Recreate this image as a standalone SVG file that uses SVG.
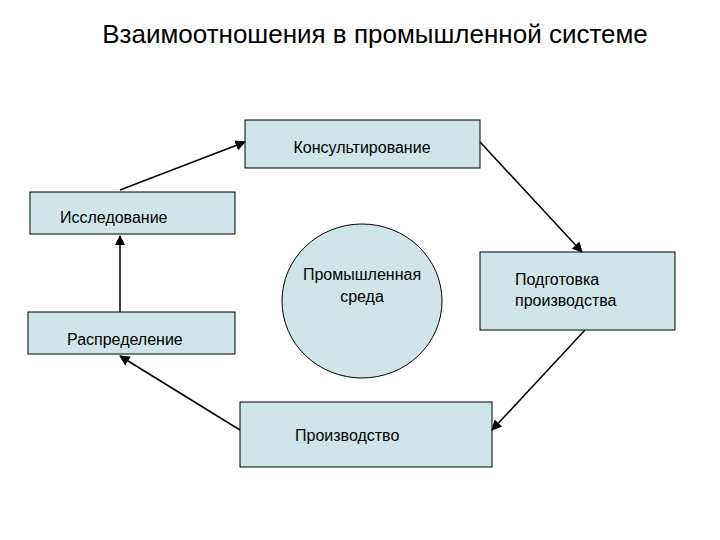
<svg xmlns="http://www.w3.org/2000/svg" width="720" height="540" viewBox="0 0 720 540">
<style>
.b{fill:#cfe6e8;stroke:#000;stroke-width:1}
.t{font-family:"Liberation Sans",Arial,sans-serif;font-size:16px;fill:#000}
.c line{stroke:#000;stroke-width:1.5;marker-end:url(#a)}
</style>
<defs><marker id="a" viewBox="0 0 10 10" refX="9" refY="5" markerWidth="7" markerHeight="7" orient="auto"><path d="M0,0L10,5L0,10z" fill="#000"/></marker></defs>
<rect width="720" height="540" fill="#fff"/>
<text x="375" y="43" text-anchor="middle" font-family="Liberation Sans,Arial,sans-serif" font-size="26">Взаимоотношения в промышленной системе</text>
<g id="n1"><rect class="b" x="245" y="120" width="235" height="48"/><text class="t" x="362" y="153" text-anchor="middle">Консультирование</text></g>
<g id="n2"><rect class="b" x="30" y="192" width="205" height="42"/><text class="t" x="60" y="223">Исследование</text></g>
<g id="n3"><rect class="b" x="480" y="252" width="195" height="78"/><text class="t" x="515" y="285">Подготовка</text><text class="t" x="515" y="306">производства</text></g>
<g id="n4"><rect class="b" x="28" y="312" width="207" height="42"/><text class="t" x="67" y="345">Распределение</text></g>
<g id="n5"><rect class="b" x="240" y="402" width="252" height="65"/><text class="t" x="295" y="441">Производство</text></g>
<g id="n6"><ellipse class="b" cx="362" cy="301" rx="80" ry="77"/><text class="t" x="362" y="280" text-anchor="middle">Промышленная</text><text class="t" x="362" y="302" text-anchor="middle">среда</text></g>
<g class="c">
<line x1="120" y1="190" x2="245" y2="142"/>
<line x1="480" y1="142" x2="582" y2="252"/>
<line x1="585" y1="330" x2="492" y2="430"/>
<line x1="240" y1="430" x2="120" y2="356"/>
<line x1="120" y1="312" x2="120" y2="236"/>
</g>
</svg>
